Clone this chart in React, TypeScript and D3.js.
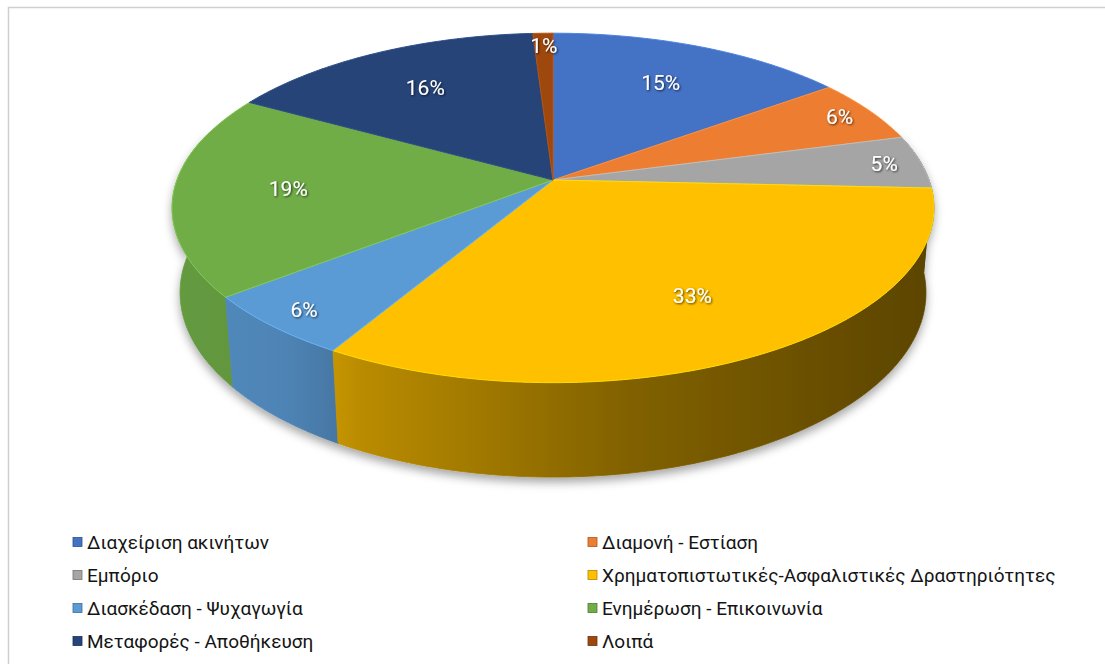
import React, { useEffect, useRef } from 'react';
import * as d3 from 'd3';

// Κατηγορίες και ποσοστά (όπως διαβάζονται στο γράφημα)
const categories = [
    "Διαχείριση ακινήτων",
    "Διαμονή - Εστίαση",
    "Εμπόριο",
    "Χρηματοπιστωτικές-Ασφαλιστικές Δραστηριότητες",
    "Διασκέδαση - Ψυχαγωγία",
    "Ενημέρωση - Επικοινωνία",
    "Μεταφορές - Αποθήκευση",
    "Λοιπά",
];
const shares = [15, 6, 5, 33, 6, 19, 16, 1];
const colors = ["#4472C4", "#ED7D31", "#A5A5A5", "#FFC000", "#5B9BD5", "#70AD47", "#264478", "#9E480E"];

const W = 1105;
const H = 664;

export default function App() {
    const svgRef = useRef<SVGSVGElement | null>(null);

    useEffect(() => {
        const svg = d3.select(svgRef.current);
        svg.html("");

        // προοπτική προβολή του δίσκου
        const cx = 553, cy = 180;
        const tilt = 0.47;
        const s = Math.sin(tilt), c = Math.cos(tilt);
        const dist = 5.58, focal = 2098, thick = 0.255;
        const project = (a: number, r: number, y: number): [number, number] => {
            const x = r * Math.sin(a);
            const z = -r * Math.cos(a);
            const depth = dist - (y * s + z * c);
            return [cx + focal * x / depth, cy - focal * (y * c - z * s) / depth];
        };
        const sample = (a0: number, a1: number, y: number) => {
            const n = Math.max(2, Math.ceil(Math.abs(a1 - a0) / 0.01));
            return d3.range(n + 1).map(i => project(a0 + (a1 - a0) * i / n, 1, y));
        };
        const line = d3.line();

        const pie = d3.pie<number>().value(d => d).sort(null);
        const arcs = pie(shares);
        const total = d3.sum(shares);

        const defs = svg.append("defs");
        const shadow = defs.append("filter").attr("id", "pieShadow")
            .attr("x", "-10%").attr("y", "-10%").attr("width", "120%").attr("height", "130%");
        shadow.append("feDropShadow").attr("dx", 0).attr("dy", 5).attr("stdDeviation", 5)
            .attr("flood-color", "#000").attr("flood-opacity", 0.35);
        const txtShadow = defs.append("filter").attr("id", "txtShadow");
        txtShadow.append("feDropShadow").attr("dx", 1).attr("dy", 1).attr("stdDeviation", 1)
            .attr("flood-color", "#000").attr("flood-opacity", 0.7);

        const xLeft = project(-Math.PI / 2, 1, 0)[0] - 6;
        const xRight = project(Math.PI / 2, 1, 0)[0] + 6;
        arcs.forEach((d, i) => {
            const g = defs.append("linearGradient").attr("id", `side${i}`)
                .attr("gradientUnits", "userSpaceOnUse")
                .attr("x1", xLeft).attr("x2", xRight).attr("y1", 0).attr("y2", 0);
            [[0, 0.3], [0.15, 0.45], [0.25, 0.9], [0.6, 1.9], [1, 2.9]].forEach(([o, k]) => {
                g.append("stop").attr("offset", o).attr("stop-color", d3.color(colors[i])!.darker(k).formatHex());
            });
        });

        // πλαίσιο
        svg.append("rect")
            .attr("x", 8.5).attr("y", 7.5).attr("width", W).attr("height", H)
            .attr("fill", "none").attr("stroke", "#cfcfcf").attr("stroke-width", 1.5);

        // πλευρικά τοιχώματα (μόνο το μπροστινό μέρος)
        const lo = Math.PI / 2 - 0.3, hi = 1.5 * Math.PI + 0.3;
        const walls = arcs
            .map((d, i) => ({ i, a0: Math.max(d.startAngle, lo), a1: Math.min(d.endAngle, hi) }))
            .filter(w => w.a1 > w.a0)
            .sort((p, q) => -Math.cos((p.a0 + p.a1) / 2) - -Math.cos((q.a0 + q.a1) / 2));

        svg.append("g").attr("filter", "url(#pieShadow)")
            .selectAll("path")
            .data(walls)
            .join("path")
            .attr("d", w => line([...sample(w.a0, w.a1, 0), ...sample(w.a1, w.a0, -thick)]) + "Z")
            .attr("fill", w => `url(#side${w.i})`)
            .attr("stroke", w => `url(#side${w.i})`)
            .attr("stroke-width", 0.8);

        // επάνω επιφάνεια
        svg.append("g")
            .selectAll("path")
            .data(arcs)
            .join("path")
            .attr("d", d => line([project(0, 0, 0), ...sample(d.startAngle, d.endAngle, 0)]) + "Z")
            .attr("fill", (d, i) => colors[i])
            .attr("stroke", (d, i) => d3.color(colors[i])!.brighter(0.4).formatHex())
            .attr("stroke-width", 1)
            .attr("stroke-linejoin", "round");

        // ετικέτες ποσοστών: οι μικρές φέτες έχουν την ετικέτα κοντά στην άκρη
        svg.append("g")
            .selectAll("text")
            .data(arcs)
            .join("text")
            .attr("transform", d => {
                const r = d.data / total > 0.1 ? 0.7 : 0.9;
                const [x, y] = project((d.startAngle + d.endAngle) / 2, r, 0);
                return `translate(${x},${y})`;
            })
            .attr("text-anchor", "middle")
            .attr("dominant-baseline", "central")
            .attr("font-family", "Roboto, sans-serif")
            .attr("font-size", 21)
            .attr("fill", "#fff")
            .attr("filter", "url(#txtShadow)")
            .text(d => `${d.data}%`);

        // υπόμνημα
        const colX = d3.scalePoint<number>().domain([0, 1]).range([73, 588]);
        const rowY = d3.scalePoint<number>().domain([0, 1, 2, 3]).range([542, 641]);
        const items = svg.append("g")
            .selectAll("g")
            .data(categories)
            .join("g")
            .attr("transform", (d, i) => `translate(${colX(i % 2)},${rowY(Math.floor(i / 2))})`);
        items.append("rect")
            .attr("x", 0).attr("y", -4.5).attr("width", 9).attr("height", 9)
            .attr("fill", (d, i) => colors[i])
            .attr("stroke", (d, i) => d3.color(colors[i])!.darker(1).formatHex())
            .attr("stroke-width", 0.8);
        items.append("text")
            .attr("x", 14)
            .attr("dominant-baseline", "central")
            .attr("font-family", "Roboto, 'Noto Sans', sans-serif")
            .attr("font-size", 19)
            .attr("fill", "#141414")
            .text(d => d);
    }, []);

    return (
        <svg ref={svgRef} width={W} height={H}
            style={{ position: "absolute", left: 0, top: 0, background: "#fff" }} />
    );
}
